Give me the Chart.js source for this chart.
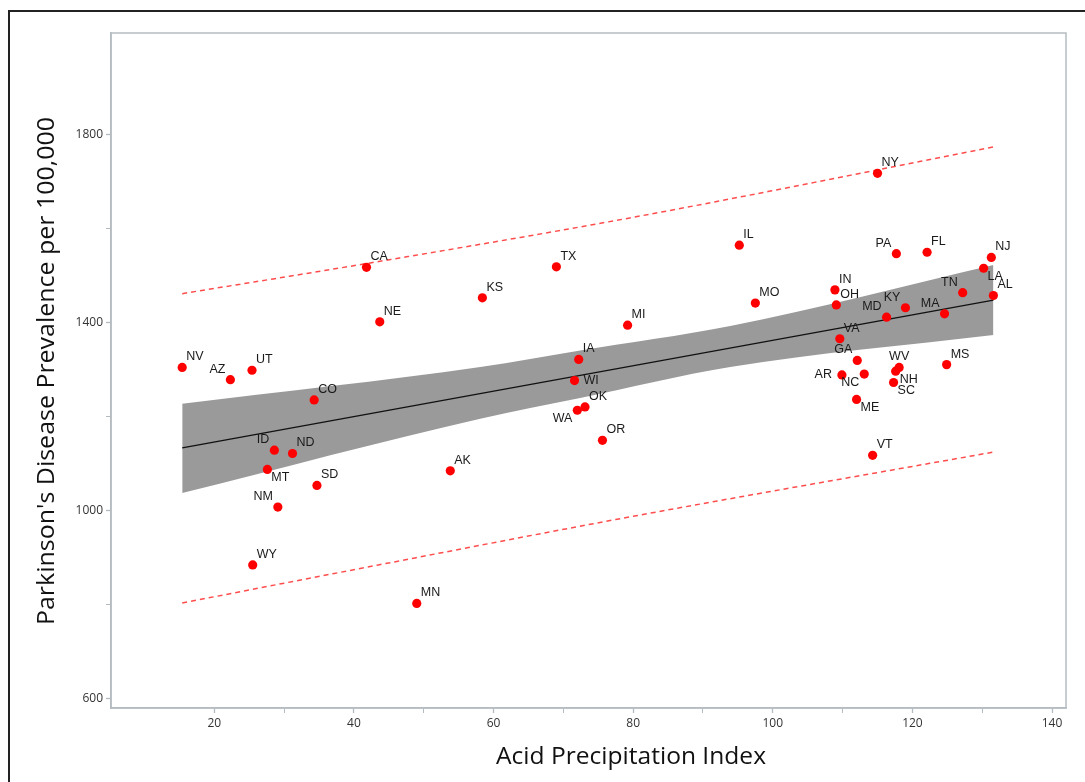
<!DOCTYPE html>
<html>
<head>
<meta charset="utf-8">
<title>Parkinson's Disease vs Acid Precipitation</title>
<script src="https://cdn.jsdelivr.net/npm/chart.js@4.4.1/dist/chart.umd.min.js"></script>
<style>
  html, body { margin: 0; padding: 0; background: #fff; }
  canvas { display: block; }
</style>
</head>
<body>
<canvas id="chart" width="1085" height="782"></canvas>
<script>
// state data
const states = ["NV","AZ","UT","CO","ID","ND","MT","SD","NM","WY",
  "AK","MN","CA","TX","KS","NE","MI","IA","WI","OK",
  "WA","OR","IL","MO","IN","OH","NY","PA","FL","NJ",
  "LA","AL","TN","MA","KY","MD","VA","GA","WV","NH",
  "AR","NC","SC","ME","MS","VT"];
const acidIndex = [15.4,22.3,25.4,34.3,28.6,31.2,27.6,34.7,29.1,25.5,
  53.8,49.0,41.8,69.0,58.4,43.7,79.2,72.2,71.6,73.1,
  72.0,75.6,95.2,97.5,108.9,109.1,115.0,117.7,122.1,131.3,
  130.2,131.6,127.2,124.6,119.0,116.3,109.6,112.1,118.1,117.6,
  109.9,113.1,117.3,112.0,124.9,114.3];
const prevalence = [1305,1279,1299,1236,1129,1122,1088,1054,1008,885,
  1085,803,1518,1519,1453,1402,1395,1322,1277,1221,
  1214,1150,1565,1442,1470,1438,1718,1547,1550,1539,
  1516,1458,1464,1419,1432,1412,1366,1320,1305,1297,
  1289,1291,1273,1237,1311,1118];

// fitted line, 95% confidence band and prediction limits
const fitX = [15.4, 131.6];
const fitY = [1134, 1448];
const bandX = [15.4, 58.1, 72.4, 93.9, 131.6];
const bandUpper = [1228, 1306, 1341, 1393, 1523];
const bandLower = [1038, 1196, 1240, 1306, 1374];
const predX = [15.4, 41.8, 79.5, 131.6];
const predUpper = [1462, 1526, 1623, 1774];
const predLower = [804, 880, 987, 1125];

const xTickValues = [20, 30, 40, 50, 60, 70, 80, 90, 100, 110, 120, 130, 140];
const xTickLabels = [20, 40, 60, 80, 100, 120, 140];
const yTickValues = [600, 800, 1000, 1200, 1400, 1600, 1800];
const yTickLabels = [600, 1000, 1400, 1800];

// where each state's label sits relative to its dot
const labelSide = ["ur","ul","ur","ur","ul","ur","lr","ur","ul","ur",
  "ur","ur","ur","ur","ur","ur","ur","ur","r","ur",
  "ll","ur","ur","ur","ur","ur","ur","ul","ur","ur",
  "lr","ur","ul","ul","ul","ul","ur","ul","u","lr",
  "l","ll","lr","lr","ur","ur"];
const sideOffsets = {
  ur: [4, -10.5, "left"], ul: [-5, -10.5, "right"],
  lr: [4, 8.5, "left"],   ll: [-5, 8.5, "right"],
  r: [9, 0, "left"],      l: [-10, 0, "right"],
  u: [0, -11, "center"]
};

const toXY = (xs, ys) => xs.map((x, i) => ({ x: x, y: ys[i] }));
const axisGray = "#b4bcc1";

const pointLabels = {
  id: "pointLabels",
  afterDatasetsDraw(chart) {
    const ctx = chart.ctx;
    const meta = chart.getDatasetMeta(0);
    ctx.save();
    ctx.font = '12.5px "Liberation Sans", Arial, sans-serif';
    ctx.fillStyle = "#1a1a1a";
    ctx.textBaseline = "middle";
    meta.data.forEach((pt, i) => {
      const o = sideOffsets[labelSide[i]];
      ctx.textAlign = o[2];
      ctx.fillText(states[i], pt.x + o[0], pt.y + o[1]);
    });
    ctx.restore();
  }
};

const frame = {
  id: "frame",
  beforeDraw(chart) {
    const ctx = chart.ctx;
    ctx.save();
    ctx.strokeStyle = "#222";
    ctx.lineWidth = 2;
    ctx.beginPath();
    ctx.moveTo(9, 782);
    ctx.lineTo(9, 11);
    ctx.lineTo(1085, 11);
    ctx.stroke();
    ctx.restore();
  },
  beforeDatasetsDraw(chart) {
    const a = chart.chartArea;
    const ctx = chart.ctx;
    ctx.save();
    ctx.strokeStyle = axisGray;
    ctx.lineWidth = 1.5;
    ctx.strokeRect(a.left, a.top, a.right - a.left, a.bottom - a.top);
    ctx.restore();
  }
};

function stretchedText(ctx, text, len) {
  const w = ctx.measureText(text).width;
  ctx.scale(len / w, 1);
  ctx.fillText(text, 0, 0);
}

const axisTitles = {
  id: "axisTitles",
  afterDraw(chart) {
    const ctx = chart.ctx;
    ctx.save();
    ctx.fillStyle = "#111";
    ctx.textAlign = "center";
    ctx.textBaseline = "alphabetic";
    ctx.font = '24px "Open Sans", sans-serif';
    ctx.translate(631, 764);
    stretchedText(ctx, "Acid Precipitation Index", 270);
    ctx.restore();

    ctx.save();
    ctx.fillStyle = "#111";
    ctx.textAlign = "center";
    ctx.textBaseline = "alphabetic";
    ctx.font = '23px "Open Sans", sans-serif';
    ctx.translate(54, 371);
    ctx.rotate(-Math.PI / 2);
    stretchedText(ctx, "Parkinson's Disease Prevalence per 100,000", 508);
    ctx.restore();
  }
};

const tickList = values => s => { s.ticks = values.map(v => ({ value: v })); };

new Chart(document.getElementById("chart"), {
  type: "scatter",
  data: {
    datasets: [
      {
        label: "States",
        data: toXY(acidIndex, prevalence),
        backgroundColor: "#ff0000",
        borderWidth: 0,
        pointRadius: 4.6,
        order: 0
      },
      {
        label: "Fit",
        data: toXY(fitX, fitY),
        showLine: true,
        borderColor: "#111",
        borderWidth: 1.3,
        pointRadius: 0,
        order: 1
      },
      {
        label: "Upper prediction",
        data: toXY(predX, predUpper),
        showLine: true,
        borderColor: "#ff4d4d",
        borderWidth: 1.5,
        borderDash: [5, 4],
        pointRadius: 0,
        cubicInterpolationMode: "monotone",
        order: 2
      },
      {
        label: "Lower prediction",
        data: toXY(predX, predLower),
        showLine: true,
        borderColor: "#ff4d4d",
        borderWidth: 1.5,
        borderDash: [5, 4],
        pointRadius: 0,
        cubicInterpolationMode: "monotone",
        order: 2
      },
      {
        label: "Upper confidence",
        data: toXY(bandX, bandUpper),
        showLine: true,
        borderWidth: 0,
        borderColor: "rgba(0,0,0,0)",
        backgroundColor: "#9a9a9a",
        pointRadius: 0,
        cubicInterpolationMode: "monotone",
        fill: "+1",
        order: 3
      },
      {
        label: "Lower confidence",
        data: toXY(bandX, bandLower),
        showLine: true,
        borderWidth: 0,
        borderColor: "rgba(0,0,0,0)",
        pointRadius: 0,
        cubicInterpolationMode: "monotone",
        order: 3
      }
    ]
  },
  options: {
    responsive: false,
    animation: false,
    layout: { padding: { top: 33, right: 19, bottom: 0, left: 0 } },
    plugins: {
      legend: { display: false },
      tooltip: { enabled: false }
    },
    scales: {
      x: {
        type: "linear",
        min: 5.2,
        max: 142,
        afterFit(s) { s.height = 74; },
        afterBuildTicks: tickList(xTickValues),
        border: { color: axisGray, width: 1.5 },
        grid: {
          drawOnChartArea: false,
          tickLength: 5,
          color: axisGray,
          tickColor: axisGray,
          tickWidth: c => xTickLabels.includes(c.tick.value) ? 1.3 : 1
        },
        ticks: {
          autoSkip: false,
          maxRotation: 0,
          padding: 3,
          color: "#333",
          font: { family: '"Open Sans", sans-serif', size: 12 },
          callback: v => xTickLabels.includes(v) ? String(v) : ""
        }
      },
      y: {
        type: "linear",
        min: 580.6,
        max: 2016.4,
        afterFit(s) { s.width = 111; },
        afterBuildTicks: tickList(yTickValues),
        border: { color: axisGray, width: 1.5 },
        grid: {
          drawOnChartArea: false,
          tickLength: 5,
          color: axisGray,
          tickColor: axisGray,
          tickWidth: c => yTickLabels.includes(c.tick.value) ? 1.3 : 1
        },
        ticks: {
          autoSkip: false,
          padding: 3,
          color: "#333",
          font: { family: '"Open Sans", sans-serif', size: 12 },
          callback: v => yTickLabels.includes(v) ? String(v) : ""
        }
      }
    }
  },
  plugins: [frame, pointLabels, axisTitles]
});
</script>
</body>
</html>
